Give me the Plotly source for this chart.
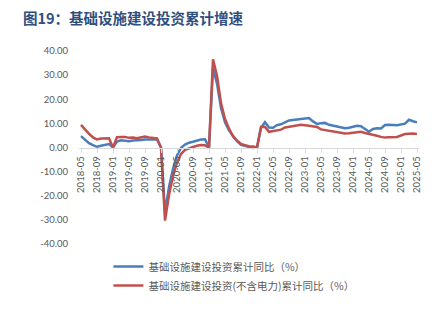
import pandas as pd
import plotly.graph_objects as go

# Monthly categories, 2018-05 .. 2025-05
months = [p.strftime("%Y-%m") for p in pd.period_range("2018-05", "2025-05", freq="M")]

# Cumulative YoY growth of infrastructure investment (%)
infra_total = [
    # 2018 May-Dec
    4.7, 3.3, 1.8, 1.0, 0.3, 0.7, 1.0, 1.4,
    # 2019
    0, 2.5, 3.0, 2.8, 2.6, 2.9, 2.9, 3.1, 3.3, 3.4, 3.5, 3.3,
    # 2020
    0, -26.9, -16.4, -8.8, -3.3, -0.1, 1.2, 2.0, 2.4, 3.0, 3.3, 3.4,
    # 2021
    0, 33.0, 26.5, 16.4, 10.4, 7.1, 4.6, 2.6, 1.1, 0.7, 0.2, -0.2,
    # 2022
    0, 8.1, 10.5, 8.3, 8.2, 9.3, 9.6, 10.4, 11.2, 11.4, 11.6, 11.5,
    # 2023
    None, 12.2, 10.8, 9.8, 10.1, 10.2, 9.4, 9.0, 8.6, 8.3, 8.0, 8.2,
    # 2024
    None, 9.0, 8.8, 7.8, 6.5, 7.7, 8.0, 7.9, 9.3, 9.4, 9.4, 9.2,
    # 2025 Jan-May
    None, 9.9, 11.5, 10.9, 10.4,
]

infra_ex_power = [
    9.4, 7.3, 5.7, 4.2, 3.3, 3.7, 3.7, 3.8,
    0, 4.3, 4.4, 4.4, 4.0, 4.1, 3.8, 4.2, 4.5, 4.2, 4.0, 3.8,
    0, -30.3, -19.7, -11.8, -6.3, -2.7, -1.0, -0.3, 0.2, 0.7, 1.0, 0.9,
    0, 36.6, 29.7, 18.4, 11.8, 7.8, 4.6, 2.9, 1.5, 1.0, 0.5, 0.4,
    0, 8.6, 8.5, 6.5, 6.7, 7.1, 7.4, 8.3, 8.6, 8.7, 8.9, 9.4,
    None, 9.0, 8.8, 8.5, 7.5, 7.2, 6.8, 6.4, 6.2, 5.9, 5.8, 5.9,
    None, 6.3, 6.5, 6.0, 5.7, 5.4, 4.9, 4.4, 4.1, 4.3, 4.2, 4.4,
    None, 5.6, 5.8, 5.8, 5.6,
]

series_names = ["基础设施建设投资累计同比（%）", "基础设施建设投资(不含电力)累计同比（%）"]
series_colors = ["#4A7EBB", "#C0504D"]

y_ticks = [40, 30, 20, 10, 0, -10, -20, -30, -40]
y_tick_text = ["40.00", "30.00", "20.00", "10.00", "0.00", "-10.00", "-20.00", "-30.00", "-40.00"]
x_ticks = months[::4]

title_text = "图19：基础设施建设投资累计增速"

fig = go.Figure()
for name, vals, color in zip(series_names, [infra_total, infra_ex_power], series_colors):
    fig.add_trace(go.Scatter(
        x=months, y=vals, name=name, mode="lines",
        line=dict(color=color, width=2.5),
        connectgaps=True,
    ))

y_min, y_max = -40, 40
fig.update_layout(
    width=434, height=328,
    margin=dict(l=78.5, r=14.5, t=51, b=84),
    paper_bgcolor="white", plot_bgcolor="white",
    font=dict(family="Lato, 'Noto Sans CJK SC', sans-serif", size=9.5, color="#595959"),
    title=dict(
        text=title_text, x=23 / 434, xanchor="left", y=1 - 19 / 328, yanchor="middle",
        xref="container", yref="container",
        font=dict(family="'Noto Sans CJK SC', sans-serif", size=14.5, color="#2F4F7F", weight="bold"),
    ),
    xaxis=dict(
        type="category", categoryorder="array", categoryarray=months,
        tickmode="array", tickvals=x_ticks, ticktext=x_ticks,
        tickangle=-90, anchor="free", position=(0 - y_min) / (y_max - y_min),
        showline=True, linecolor="#D9D9D9", linewidth=1,
        ticks="outside", ticklen=4, tickcolor="#D9D9D9",
        showgrid=False, zeroline=False,
        tickfont=dict(family="Lato", size=9.5, color="#595959"),
        range=[-0.5, len(months) - 0.5],
    ),
    yaxis=dict(
        range=[y_min, y_max], tickmode="array", tickvals=y_ticks, ticktext=y_tick_text,
        showgrid=False, zeroline=False, showline=False, ticks="",
        ticklabelstandoff=10,
        tickfont=dict(family="Lato", size=9.5, color="#595959"),
    ),
    legend=dict(
        orientation="v", x=(108 - 78.5) / 341, xanchor="left",
        y=(244 - 252) / 193, yanchor="top",
        font=dict(family="'Noto Sans CJK SC', sans-serif", size=10.5, color="#595959"),
        bgcolor="rgba(0,0,0,0)", borderwidth=0,
    ),
    showlegend=True,
)

fig.write_html("out.html")
